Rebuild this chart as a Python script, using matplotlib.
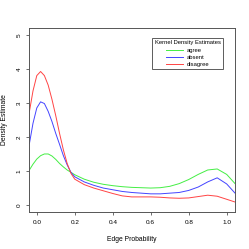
import matplotlib
matplotlib.use("Agg")
import matplotlib.pyplot as plt

x = [-0.039, -0.02, 0.0, 0.02, 0.04, 0.06, 0.08, 0.10, 0.12, 0.14, 0.16, 0.18, 0.20,
     0.25, 0.30, 0.35, 0.40, 0.45, 0.50, 0.55, 0.60, 0.65, 0.70, 0.75, 0.80, 0.85,
     0.90, 0.95, 1.00, 1.044]
agree = [1.03, 1.2, 1.35, 1.45, 1.5, 1.5, 1.44, 1.34, 1.22, 1.12, 1.03, 0.96, 0.89,
         0.76, 0.67, 0.61, 0.57, 0.54, 0.52, 0.51, 0.5, 0.51, 0.55, 0.63, 0.75, 0.9,
         1.03, 1.06, 0.9, 0.63]
absent = [1.8, 2.4, 2.85, 3.03, 2.98, 2.75, 2.45, 2.1, 1.78, 1.45, 1.18, 0.96, 0.83,
          0.68, 0.58, 0.5, 0.45, 0.4, 0.37, 0.35, 0.33, 0.33, 0.35, 0.37, 0.43, 0.53,
          0.68, 0.8, 0.62, 0.35]
disagree = [2.74, 3.35, 3.8, 3.92, 3.8, 3.52, 3.1, 2.62, 2.1, 1.62, 1.22, 0.93, 0.76,
            0.6, 0.5, 0.42, 0.34, 0.27, 0.24, 0.24, 0.24, 0.23, 0.21, 0.2, 0.21, 0.25,
            0.29, 0.26, 0.17, 0.09]
series_names = ["agree", "absent", "disagree"]
xticks = [0.0, 0.2, 0.4, 0.6, 0.8, 1.0]
yticks = [0, 1, 2, 3, 4, 5]

plt.rcParams['font.family'] = ['Liberation Sans', 'DejaVu Sans']
fs = 4.6

fig = plt.figure(figsize=(2.49, 2.49), dpi=100)
ax = fig.add_axes([0.118, 0.149, 0.826, 0.739])
colors = ["#44ee44", "#4444ff", "#ff4444"]
for ys, c, n in zip([agree, absent, disagree], colors, series_names):
    ax.plot(x, ys, color=c, lw=0.7, label=n)

ax.set_xlim(-0.039, 1.044)
ax.set_ylim(-0.2, 5.2)
ax.set_xticks(xticks)
ax.set_xticklabels([f"{t:.1f}" for t in xticks], fontsize=fs)
ax.set_yticks(yticks)
ax.set_yticklabels([str(t) for t in yticks], fontsize=fs, rotation=90, va='center')
ax.tick_params(length=2.5, width=0.5, pad=3, color='#333333')
for s in ax.spines.values():
    s.set_linewidth(0.7)
    s.set_color('#555555')
ax.set_xlabel("Edge Probability", fontsize=fs + 0.3, labelpad=8)
ax.set_ylabel("Density Estimate", fontsize=fs + 0.3, labelpad=6)

leg = ax.legend(title="Kernel Density Estimates", loc='upper right',
                bbox_to_anchor=(0.942, 0.946), fontsize=4.2, title_fontsize=4.2,
                frameon=True, fancybox=False, handlelength=3.0, handletextpad=0.6,
                labelspacing=0.35, borderpad=0.45, borderaxespad=0.0)
leg.get_frame().set_edgecolor('#333333')
leg.get_frame().set_linewidth(0.7)

fig.savefig("out.png", dpi=100)
